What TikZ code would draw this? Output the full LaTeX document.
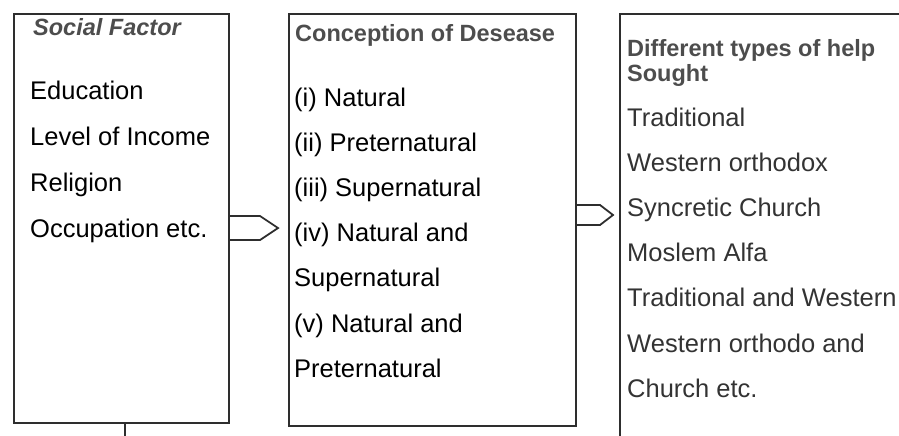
\documentclass[tikz,border=0pt]{standalone}
\usepackage{fontspec}
\setmainfont{Liberation Sans}
\definecolor{boxline}{HTML}{2E2E2E}
\definecolor{headgrey}{HTML}{4D4D4D}

\begin{document}
\begin{tikzpicture}[x=1pt, y=-1pt,
        frame/.style={draw=boxline, line width=1.8pt, anchor=north west, inner sep=0pt},
        head/.style={anchor=base west, inner sep=0pt, text=headgrey, font=\fontsize{23.5}{25}\selectfont\bfseries},
        item/.style={anchor=base west, inner sep=0pt, font=\fontsize{25.5}{28}\selectfont},
        pointer/.style={draw=boxline, line width=1.8pt, line join=miter}]
        \useasboundingbox (0,0) rectangle (899,436);
        % the three columns
        \node [frame, minimum width=215pt, minimum height=409pt] (social) at (13,13) {};
        \node [frame, minimum width=287pt, minimum height=412pt] (concept) at (288,13) {};
        \node [frame, minimum width=300pt, minimum height=440pt] (help) at (619,13) {};
        \coordinate (stem) at (125,436);
        \draw [pointer] (social.south -| stem)--(stem);
        % headings
        \node [head, font=\fontsize{23.5}{25}\selectfont\bfseries\itshape] (socialhead) at (33, 35.5) {Social Factor};
        \node [head] (concepthead) at (295, 41.5) {Conception of Desease};
        \node [head] (helphead) at (627, 56.5) {Different types of help};
        \node [head] (helphead2) at (627, 81.5) {Sought};
        % items
        \foreach \t [count=\i from 0] in {Education, Level of Income, Religion, Occupation etc.}
            \node [item] (soc\i) at (30, 99+46.3*\i) {\t};
        \foreach \t [count=\i from 0] in {(i) Natural, (ii) Preternatural, (iii) Supernatural, (iv) Natural and, Supernatural, (v) Natural and, Preternatural}
            \node [item] (con\i) at (294, 106+45.2*\i) {\t};
        \foreach \t [count=\i from 0] in {Traditional, Western orthodox, Syncretic Church, Moslem Alfa, Traditional and Western, Western orthodo and, Church etc.}
            \node [item, text=black!80] (hlp\i) at (627, 126+45.2*\i) {\t};
        % block arrows between the columns
        \draw [pointer] (social.east |- 0,216)--(260,216)--(278,228)--(260,240)--(social.east |- 0,240);
        \draw [pointer] (concept.east |- 0,205)--(600,205)--(613,215)--(600,225)--(concept.east |- 0,225);
    \end{tikzpicture}
\end{document}
